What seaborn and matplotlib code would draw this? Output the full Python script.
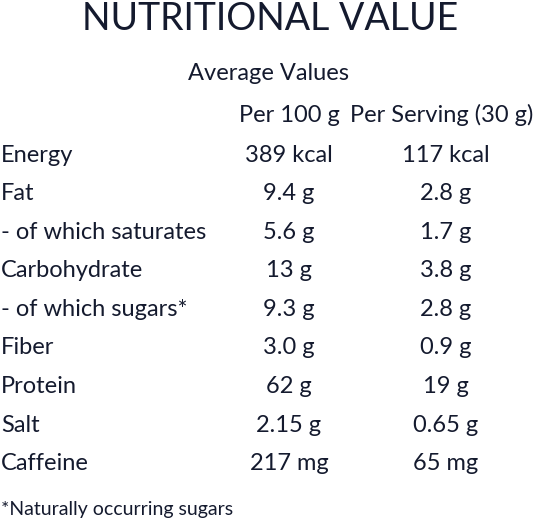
import matplotlib
matplotlib.use("Agg")
import matplotlib.pyplot as plt
import seaborn as sns

sns.set_theme(style="white")
plt.rcParams['font.family'] = ['Lato', 'DejaVu Sans']

title = "NUTRITIONAL VALUE"
subtitle = "Average Values"
col_headers = ["Per 100 g", "Per Serving (30 g)"]
nutrients = ["Energy", "Fat", "- of which saturates", "Carbohydrate",
             "- of which sugars*", "Fiber", "Protein", "Salt", "Caffeine"]
per_100g = ["389 kcal", "9.4 g", "5.6 g", "13 g", "9.3 g", "3.0 g", "62 g", "2.15 g", "217 mg"]
per_serving = ["117 kcal", "2.8 g", "1.7 g", "3.8 g", "2.8 g", "0.9 g", "19 g", "0.65 g", "65 mg"]
footnote = "*Naturally occurring sugars"

color = "#141a2e"
fig = plt.figure(figsize=(5.4, 5.27), dpi=100)
ax = fig.add_axes([0, 0, 1, 1])
ax.set_xlim(0, 540)
ax.set_ylim(527, 0)
ax.axis("off")

ax.text(270, 19, title, ha="center", va="center", fontsize=27, color=color)
ax.text(268, 73, subtitle, ha="center", va="center", fontsize=17, color=color)
cols = [289, 442]
for x, h in zip(cols, col_headers):
    ax.text(x, 115, h, ha="center", va="center", fontsize=17, color=color)

y0, dy = 155, 38.6
for i, (n, a, b) in enumerate(zip(nutrients, per_100g, per_serving)):
    y = y0 + i * dy
    ax.text(1, y, n, ha="left", va="center", fontsize=17, color=color)
    ax.text(cols[0], y, a, ha="center", va="center", fontsize=17, color=color)
    ax.text(cols[1] + 4, y, b, ha="center", va="center", fontsize=17, color=color)

ax.text(1, 509, footnote, ha="left", va="center", fontsize=14, color=color)
fig.savefig("out.png", dpi=100, facecolor="white")
